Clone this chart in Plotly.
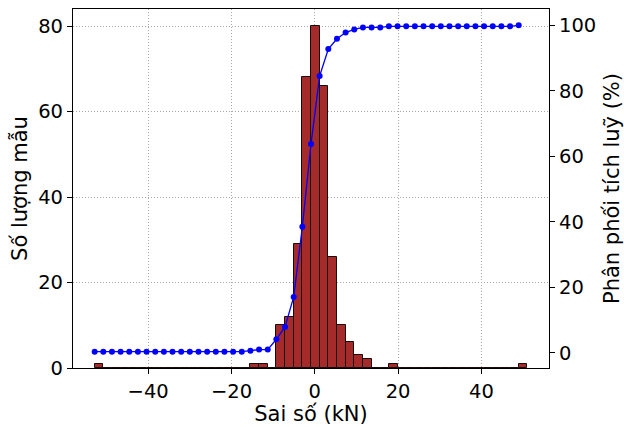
import numpy as np
import plotly.graph_objects as go

# Histogram of errors (50 bins)
bin_min = -52.85
bin_max = 51.03
counts = [1, 0, 0, 0, 0, 0, 0, 0, 0, 0,
          0, 0, 0, 0, 0, 0, 0, 0, 1, 1,
          0, 10, 12, 29, 68, 80, 66, 26, 10, 6,
          3, 2, 0, 0, 1, 0, 0, 0, 0, 0,
          0, 0, 0, 0, 0, 0, 0, 0, 0, 1]

x_ticks = [-40, -20, 0, 20, 40]
y_ticks = [0, 20, 40, 60, 80]
y2_ticks = [0, 20, 40, 60, 80, 100]

edges = np.linspace(bin_min, bin_max, len(counts) + 1)
width = edges[1] - edges[0]
centers = (edges[:-1] + edges[1:]) / 2
cum_pct = np.cumsum(counts) / np.sum(counts) * 100

FONT = "DejaVu Sans"
GRID = dict(showgrid=True, gridcolor="#a8a8a8", griddash="1px,2px", gridwidth=0.9)
fig = go.Figure()
fig.add_trace(go.Bar(
    x=centers, y=counts, width=width,
    marker=dict(color="#a52a2a", line=dict(color="#1a0a0a", width=1)),
    yaxis="y", showlegend=False,
))
fig.add_trace(go.Scatter(
    x=edges[:-1], y=cum_pct, mode="lines+markers",
    line=dict(color="#0000ff", width=1.3),
    marker=dict(color="#0000ff", size=6),
    yaxis="y2", showlegend=False,
))

span = cum_pct.max() - cum_pct.min()
xspan = bin_max - bin_min
fig.update_layout(
    width=624, height=427,
    margin=dict(l=73, r=75, t=9, b=59),
    paper_bgcolor="white", plot_bgcolor="white",
    font=dict(family=FONT, size=19.5, color="black"),
    bargap=0,
    xaxis=dict(
        range=[bin_min - 0.05 * xspan, bin_max + 0.05 * xspan],
        tickvals=x_ticks, ticks="outside", ticklen=5, tickwidth=1, tickcolor="black",
        showline=True, linecolor="black", linewidth=1.2, mirror=True,
        zeroline=False, automargin=False, **GRID,
        title=dict(text="Sai số (kN)", font=dict(size=21), standoff=3),
    ),
    yaxis=dict(
        range=[0, 84],
        tickvals=y_ticks, ticks="outside", ticklen=5, tickwidth=1, tickcolor="black",
        showline=True, linecolor="black", linewidth=1.2,
        zeroline=False, automargin=False, **GRID,
        title=dict(text="Số lượng mẫu", font=dict(size=21), standoff=4),
    ),
    yaxis2=dict(
        overlaying="y", side="right",
        range=[cum_pct.min() - 0.05 * span, cum_pct.max() + 0.05 * span],
        tickvals=y2_ticks, ticks="outside", ticklen=5, tickwidth=1, tickcolor="black",
        showline=True, linecolor="black", linewidth=1.2,
        showgrid=False, zeroline=False, automargin=False,
        title=dict(text="Phân phối tích luỹ (%)", font=dict(size=21), standoff=10),
    ),
)

fig.write_html("out.html")
